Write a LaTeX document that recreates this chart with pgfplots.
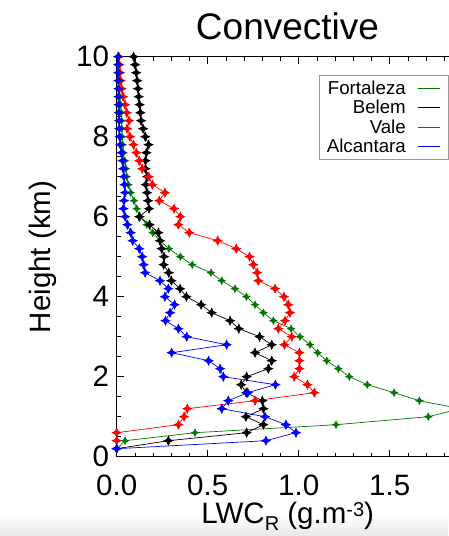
\documentclass[border=0pt]{standalone}
\usepackage{fontspec}
\setmainfont{Liberation Sans}
\usepackage{pgfplots}
\usepackage{pgfplotstable}
\pgfplotsset{compat=1.18}

\definecolor{fgreen}{RGB}{0,120,0}

% four-pointed star marker
\pgfdeclareplotmark{star4}{%
  \pgfpathmoveto{\pgfqpoint{0pt}{\pgfplotmarksize}}%
  \pgfpathlineto{\pgfqpoint{0.32\pgfplotmarksize}{0.32\pgfplotmarksize}}%
  \pgfpathlineto{\pgfqpoint{\pgfplotmarksize}{0pt}}%
  \pgfpathlineto{\pgfqpoint{0.32\pgfplotmarksize}{-0.32\pgfplotmarksize}}%
  \pgfpathlineto{\pgfqpoint{0pt}{-\pgfplotmarksize}}%
  \pgfpathlineto{\pgfqpoint{-0.32\pgfplotmarksize}{-0.32\pgfplotmarksize}}%
  \pgfpathlineto{\pgfqpoint{-\pgfplotmarksize}{0pt}}%
  \pgfpathlineto{\pgfqpoint{-0.32\pgfplotmarksize}{0.32\pgfplotmarksize}}%
  \pgfpathclose
  \pgfusepathqfillstroke}

% columns: LWC (g/m3), height (km)
\pgfplotstableread{
lwc h
0.008 10.0
0.009 9.8
0.010 9.6
0.012 9.4
0.014 9.2
0.017 9.0
0.022 8.8
0.025 8.6
0.027 8.4
0.028 8.2
0.029 8.0
0.033 7.8
0.037 7.6
0.045 7.4
0.051 7.2
0.055 7.0
0.064 6.8
0.077 6.6
0.095 6.4
0.110 6.2
0.130 6.0
0.165 5.8
0.198 5.6
0.238 5.4
0.287 5.2
0.350 5.0
0.415 4.8
0.518 4.6
0.577 4.4
0.650 4.2
0.713 4.0
0.760 3.8
0.806 3.6
0.861 3.4
0.958 3.2
1.007 3.0
1.062 2.8
1.104 2.6
1.154 2.4
1.218 2.2
1.278 2.0
1.377 1.8
1.524 1.6
1.663 1.4
1.890 1.2
1.712 1.0
1.205 0.8
0.430 0.6
0.046 0.4
0.000 0.2
}\fortaleza

\pgfplotstableread{
lwc h
0.093 10.0
0.101 9.8
0.107 9.6
0.112 9.4
0.117 9.2
0.121 9.0
0.126 8.8
0.130 8.6
0.134 8.4
0.145 8.2
0.157 8.0
0.175 7.8
0.163 7.6
0.158 7.4
0.158 7.2
0.167 7.0
0.160 6.8
0.167 6.6
0.172 6.4
0.178 6.2
0.124 6.0
0.181 5.8
0.229 5.6
0.238 5.4
0.247 5.2
0.260 5.0
0.258 4.8
0.286 4.6
0.300 4.4
0.348 4.2
0.383 4.0
0.464 3.8
0.522 3.6
0.623 3.4
0.671 3.2
0.785 3.0
0.852 2.8
0.760 2.6
0.852 2.4
0.833 2.2
0.714 2.0
0.684 1.8
0.712 1.6
0.800 1.4
0.806 1.2
0.710 1.0
0.806 0.8
0.714 0.6
0.284 0.4
0.000 0.2
}\belem

\pgfplotstableread{
lwc h
0.012 10.0
0.015 9.8
0.018 9.6
0.022 9.4
0.027 9.2
0.035 9.0
0.046 8.8
0.055 8.6
0.068 8.4
0.057 8.2
0.073 8.0
0.092 7.8
0.108 7.6
0.124 7.4
0.140 7.2
0.176 7.0
0.196 6.8
0.265 6.6
0.234 6.4
0.315 6.2
0.350 6.0
0.339 5.8
0.399 5.6
0.555 5.4
0.657 5.2
0.730 5.0
0.751 4.8
0.772 4.6
0.778 4.4
0.870 4.2
0.919 4.0
0.943 3.8
0.952 3.6
0.925 3.4
0.888 3.2
0.962 3.0
0.921 2.8
1.004 2.6
1.004 2.4
1.004 2.2
0.975 2.0
1.048 1.8
1.086 1.6
0.760 1.4
0.388 1.2
0.370 1.0
0.339 0.8
0.000 0.6
0.000 0.4
}\vale

\pgfplotstableread{
lwc h
0.008 10.0
0.008 9.8
0.009 9.6
0.009 9.4
0.010 9.2
0.010 9.0
0.011 8.8
0.012 8.6
0.013 8.4
0.014 8.2
0.016 8.0
0.020 7.8
0.027 7.6
0.032 7.4
0.036 7.2
0.040 7.0
0.043 6.8
0.046 6.6
0.040 6.4
0.037 6.2
0.046 6.0
0.059 5.8
0.077 5.6
0.088 5.4
0.124 5.2
0.140 5.0
0.148 4.8
0.156 4.6
0.238 4.4
0.284 4.2
0.265 4.0
0.318 3.8
0.293 3.6
0.268 3.4
0.339 3.2
0.385 3.0
0.604 2.8
0.302 2.6
0.505 2.4
0.568 2.2
0.586 2.0
0.872 1.8
0.720 1.6
0.613 1.4
0.577 1.2
0.815 1.0
0.930 0.8
0.985 0.6
0.820 0.4
0.000 0.2
}\alcantara

\begin{document}
\begin{tikzpicture}[x=1pt,y=1pt]
% soft grey band along the bottom edge
\shade[top color=white,bottom color=black!9] (0,0) rectangle (448,22);

\begin{axis}[
  at={(116.7pt,79.3pt)}, anchor=south west,
  scale only axis, width=364pt, height=400pt,
  xmin=0, xmax=2, ymin=0, ymax=10,
  xtick={0,0.5,1,1.5,2}, xticklabels={0.0,0.5,1.0,1.5,{}},
  minor x tick num=4,
  ytick={0,2,4,6,8,10}, yticklabels={0,2,4,6,8,10},
  minor y tick num=3,
  tick align=inside,
  major tick length=7pt, minor tick length=4pt,
  tick style={black, line width=0.6pt},
  axis line style={line width=0.8pt},
  ticklabel style={font=\fontsize{29.5}{30}\selectfont, inner sep=0pt},
  xticklabel style={yshift=-18pt},
  yticklabel style={xshift=-7.5pt},
  legend plot pos=right,
  legend cell align=right,
  legend image code/.code={%
    \draw[#1,line width=0.6pt] (0pt,0pt) -- (11pt,0pt);
    \path (11pt,0pt) -- (22.2pt,0pt);},
  legend style={at={(axis cs:1.1115,9.5425)}, anchor=north west,
    draw=gray!80, line width=0.6pt, fill=white,
    inner xsep=7.5pt, inner ysep=6pt, row sep=5.4pt, column sep=12pt,
    font=\fontsize{18.7}{19}\selectfont,
    nodes={inner sep=0pt, text height=13.4pt, text depth=0.5pt}},
]
\addplot[forget plot, fgreen, line width=0.7pt, mark=star4, mark size=3.6pt]
  table[x=lwc,y=h] {\fortaleza};
\addplot[forget plot, black, line width=0.7pt, mark=star4, mark size=4.4pt]
  table[x=lwc,y=h] {\belem};
\addplot[forget plot, red, line width=0.7pt, mark=star4, mark size=4.4pt]
  table[x=lwc,y=h] {\vale};
\addplot[forget plot, blue, line width=0.7pt, mark=star4, mark size=4.4pt]
  table[x=lwc,y=h] {\alcantara};

\addlegendimage{fgreen}
\addlegendentry{Fortaleza}
\addlegendimage{black}
\addlegendentry{Belem}
\addlegendimage{red}
\addlegendentry{Vale}
\addlegendimage{blue}
\addlegendentry{Alcantara}
\end{axis}

\node[anchor=base, font=\fontsize{37}{37}\selectfont] at (287.5,496) {Convective};
\node[rotate=90, anchor=base, font=\fontsize{29.5}{30}\selectfont] at (50,279) {Height (km)};
\node[anchor=base, inner sep=0pt, font=\fontsize{29.5}{30}\selectfont] at (287.7,12.5)
  {LWC\raisebox{-7pt}{\fontsize{20}{20}\selectfont R} (g.m\raisebox{7pt}{\fontsize{20}{20}\selectfont -3})};

\pgfresetboundingbox
\useasboundingbox (0,0) rectangle (448,536);
\end{tikzpicture}
\end{document}
